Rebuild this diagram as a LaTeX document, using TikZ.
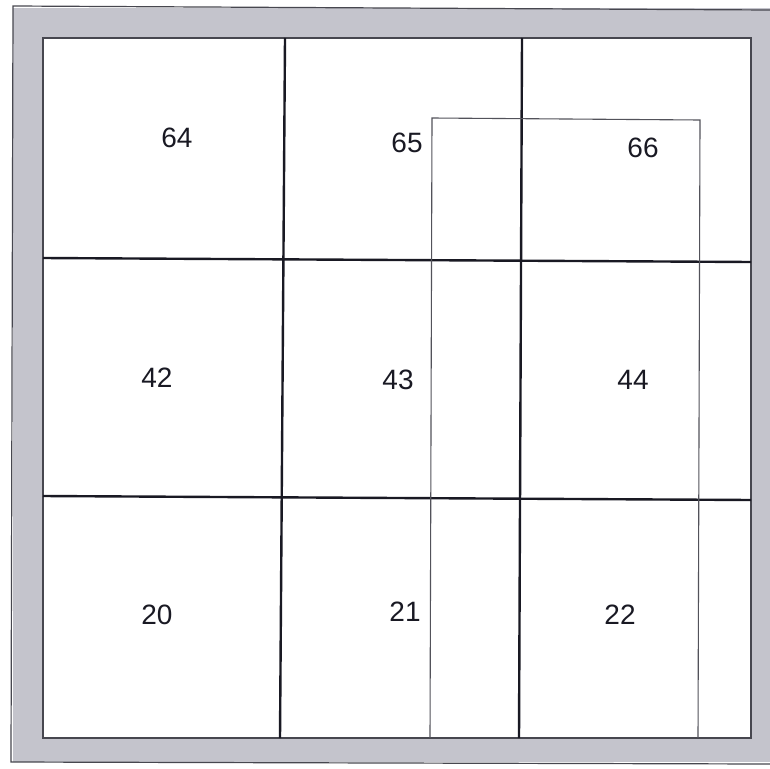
\documentclass[tikz,border=0pt]{standalone}
\usepackage{fontspec}
\setsansfont{Liberation Sans}
\usepackage{xcolor}
\definecolor{frame}{RGB}{196,196,204}
\definecolor{ink}{RGB}{25,25,35}
\usepackage{tikz}
\usetikzlibrary{positioning}
\tikzset{
  cell/.style={font=\fontsize{28}{32}\selectfont\sffamily,text=ink,inner sep=1pt},
  gridline/.style={draw=ink,line width=2.4pt},
  overlay/.style={draw=ink!75,line width=1.1pt},
  edge/.style={draw=ink!80,line width=1.2pt},
}
\begin{document}
\begin{tikzpicture}[x=1pt,y=-1pt]
\useasboundingbox (0,0) rectangle (770,768);
% mat frame
\fill[frame] (13,8) rectangle (770,762);
\draw[edge] (770,10) -- (13,6) -- (11,762) -- (770,764);
\fill[white] (43,38) rectangle (751,738);
\draw[edge] (43,38) rectangle (751,738);
% tile grid
\draw[gridline] (43,258) -- (751,262);
\draw[gridline] (43,496) -- (751,500);
\draw[gridline] (285,38) -- (280,738);
\draw[gridline] (522,38) -- (519,738);
% selection window
\draw[overlay] (430,738) -- (432,118) -- (700,120) -- (698,738);
% tile numbers
\node[cell] (t64) at (177,138) {64};
\node[cell] (t65) at (407,143) {65};
\node[cell] (t66) at (643,148) {66};
\node[cell] (t42) at (157,378) {42};
\node[cell] (t43) at (398,380) {43};
\node[cell] (t44) at (633,380) {44};
\node[cell] (t20) at (157,615) {20};
\node[cell] (t21) at (405,612) {21};
\node[cell] (t22) at (620,615) {22};
\end{tikzpicture}
\end{document}
